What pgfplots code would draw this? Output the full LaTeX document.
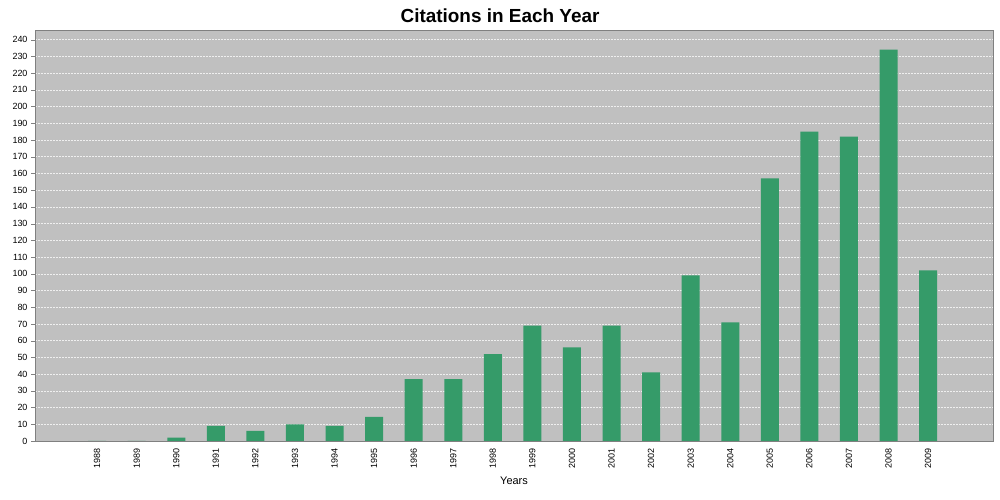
\documentclass[border=0pt]{standalone}
\usepackage{fontspec}
\setmainfont{Liberation Sans}
\usepackage{pgfplots}
\pgfplotsset{compat=1.18}
\definecolor{barg}{RGB}{53,155,105}
\definecolor{bgg}{RGB}{192,192,192}
\definecolor{axg}{RGB}{128,128,128}
\begin{document}
\begin{tikzpicture}
\path[use as bounding box] (0,0) rectangle (1000bp,500bp);
\begin{axis}[
  at={(35bp,59bp)}, anchor=south west,
  scale only axis, width=958bp, height=411bp,
  xmin=-1.57, xmax=22.64, ymin=0, ymax=245.8,
  axis background/.style={fill=bgg},
  axis line style={axg},
  ytick={0,10,...,240},
  xtick={0,...,21},
  xticklabels={1988,1989,1990,1991,1992,1993,1994,1995,1996,1997,1998,1999,2000,2001,2002,2003,2004,2005,2006,2007,2008,2009},
  x tick label style={rotate=90, anchor=east, font=\fontsize{9}{10}\selectfont},
  y tick label style={font=\fontsize{9}{10}\selectfont},
  /pgf/number format/assume math mode=true,
  ytick pos=left,
  major x tick style={draw=none},
  major y tick style={axg},
  tick align=outside,
  major tick length=4bp,
  ymajorgrids,
  major grid style={white, opacity=0.75, dash pattern=on 1.5bp off 1.5bp, line width=0.5bp},
  xlabel={Years},
  xlabel style={font=\fontsize{11}{12}\selectfont, yshift=-2bp},
  title={\textbf{Citations in Each Year}},
  title style={font=\fontsize{19}{22}\selectfont, xshift=-14bp, yshift=-2bp},
  ybar, bar width=0.455,
]
\addplot[fill=barg, draw=none] coordinates {
(0,0) (1,0) (2,2) (3,9) (4,6) (5,10) (6,9) (7,14.5) (8,37) (9,37)
(10,52) (11,69) (12,56) (13,69) (14,41) (15,99) (16,71) (17,157)
(18,185) (19,182) (20,234) (21,102)
};
\end{axis}
\end{tikzpicture}
\end{document}
